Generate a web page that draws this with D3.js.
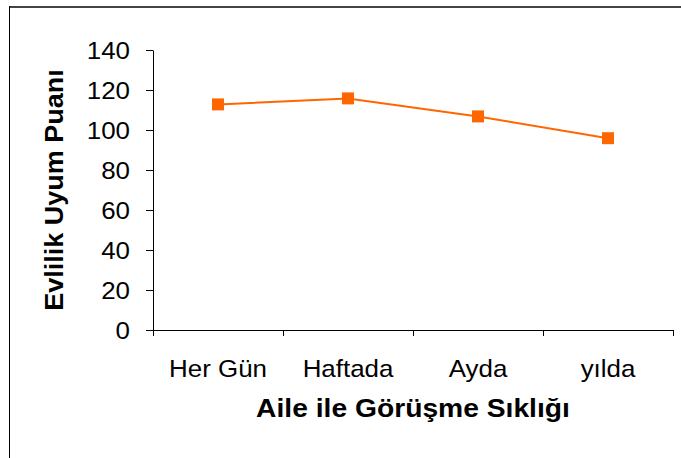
<!DOCTYPE html>
<html>
<head>
<meta charset="utf-8">
<script src="https://cdn.jsdelivr.net/npm/d3@7"></script>
<style>
	body { margin: 0; background: #fff; }
	text { font-family: "Liberation Sans", Arial, sans-serif; fill: #000; }
</style>
</head>
<body>
<div id="chart"></div>
<script>
// data
var categories = ["Her Gün", "Haftada", "Ayda", "yılda"];
var scores = [112.8, 115.8, 106.8, 95.9];
var yTicks = [0, 20, 40, 60, 80, 100, 120, 140];
var xTitle = "Aile ile Görüşme Sıklığı";
var yTitle = "Evlilik Uyum Puanı";

var width = 681, height = 458;
var plotL = 153, plotR = 673, plotT = 50, plotB = 330;
var orange = "#ff6600";
var stretch = 1.08; // text in the original is a bit wider than normal

var svg = d3.select("#chart").append("svg")
	.attr("width", width)
	.attr("height", height);

// frame, only top and left edges are visible
svg.append("line")
	.attr("x1", 9).attr("x2", width)
	.attr("y1", 7).attr("y2", 7)
	.attr("stroke", "#444").attr("stroke-width", 2);
svg.append("line")
	.attr("x1", 9.5).attr("x2", 9.5)
	.attr("y1", 6).attr("y2", height)
	.attr("stroke", "#000");

var x = d3.scaleBand().domain(categories).range([plotL, plotR]);
var y = d3.scaleLinear().domain([0, 140]).range([plotB, plotT]);

// y axis
var yAxis = svg.append("g")
	.attr("transform", "translate(" + plotL + ",0)")
	.call(d3.axisLeft(y).tickValues(yTicks).tickSize(7).tickSizeOuter(0));
yAxis.select(".domain").attr("stroke", "#000");
yAxis.selectAll("line").attr("stroke", "#000");
yAxis.selectAll("text")
	.attr("font-size", 24)
	.attr("x", -23 / stretch)
	.attr("dy", "0.36em")
	.attr("transform", "scale(" + stretch + ",1)");

// x axis: line with ticks on the category boundaries
var xAxis = svg.append("g").attr("transform", "translate(0," + plotB + ")");
xAxis.append("line")
	.attr("x1", plotL).attr("x2", plotR)
	.attr("y1", 0.5).attr("y2", 0.5)
	.attr("stroke", "#000");
var bounds = categories.map(function (d) { return x(d); }).concat([plotR]);
xAxis.selectAll(".bnd")
	.data(bounds).enter().append("line")
	.attr("class", "bnd")
	.attr("x1", function (d) { return Math.round(d) + 0.5; })
	.attr("x2", function (d) { return Math.round(d) + 0.5; })
	.attr("y1", 0).attr("y2", 6)
	.attr("stroke", "#000");
xAxis.selectAll(".lbl")
	.data(categories).enter().append("g")
	.attr("class", "lbl")
	.attr("transform", function (d) {
		return "translate(" + (x(d) + x.bandwidth() / 2) + ",47)";
	})
	.append("text")
	.attr("text-anchor", "middle")
	.attr("font-size", 24)
	.attr("transform", "scale(" + stretch + ",1)")
	.text(function (d) { return d; });

// axis titles
svg.append("g")
	.attr("transform", "translate(" + ((plotL + plotR) / 2) + ",417)")
	.append("text")
	.attr("text-anchor", "middle")
	.attr("font-size", 25)
	.attr("font-weight", "bold")
	.attr("transform", "scale(1.13,1)")
	.text(xTitle);

svg.append("g")
	.attr("transform", "translate(63," + ((plotT + plotB) / 2) + ") rotate(-90)")
	.append("text")
	.attr("text-anchor", "middle")
	.attr("font-size", 25)
	.attr("font-weight", "bold")
	.attr("transform", "scale(1.08,1)")
	.text(yTitle);

// series
var cx = function (d, i) { return x(categories[i]) + x.bandwidth() / 2; };
var line = d3.line()
	.x(cx)
	.y(function (d) { return y(d); });

svg.append("path")
	.datum(scores)
	.attr("d", line)
	.attr("fill", "none")
	.attr("stroke", orange)
	.attr("stroke-width", 2);

svg.selectAll(".pt")
	.data(scores).enter().append("rect")
	.attr("class", "pt")
	.attr("x", function (d, i) { return cx(d, i) - 6; })
	.attr("y", function (d) { return y(d) - 6; })
	.attr("width", 12)
	.attr("height", 12)
	.attr("fill", orange);
</script>
</body>
</html>
